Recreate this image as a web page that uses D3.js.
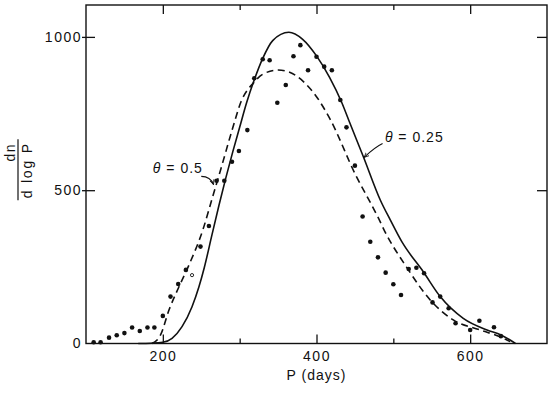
<!DOCTYPE html>
<html>
<head>
<meta charset="utf-8">
<script src="https://cdn.jsdelivr.net/npm/d3@7"></script>
<style>
  body { margin: 0; background: #fff; }
  text { font-family: "Liberation Sans", Arial, sans-serif; fill: #111; }
</style>
</head>
<body>
<div id="chart"></div>
<script>
// observed stars: period (days) and dn / d log P
var dotP = [110, 119, 130, 140, 150, 160, 170, 180, 189, 200, 210, 220, 230, 249, 260, 270, 280, 290, 299, 310,
  319, 330, 339, 349, 360, 370, 379, 389, 400, 410, 420, 431, 439, 450, 460, 470, 480, 490, 500, 510,
  520, 530, 540, 551, 561, 572, 581, 600, 612, 631, 640];
var dotV = [4, 4, 19, 27, 34, 52, 41, 52, 52, 90, 153, 194, 240, 316, 383, 531, 531, 593, 628, 696,
  865, 927, 924, 785, 843, 937, 973, 891, 935, 903, 891, 794, 705, 580, 414, 332, 281, 231, 193, 158,
  243, 247, 229, 134, 153, 115, 66, 44, 74, 53, 24];
// the one open circle
var openP = [238];
var openV = [223];

// theta = 0.25 model (solid)
var solidP = [168, 185, 200, 212, 225, 238, 247, 254, 264, 273, 282, 291, 300, 309, 319, 330, 343, 364, 382, 400,
  417, 433, 442, 461, 483, 496, 511, 539, 561, 591, 622, 640, 659];
var solidV = [0, 1, 4, 17, 55, 120, 185, 248, 355, 450, 540, 625, 705, 785, 860, 930, 988, 1015, 992, 938,
  868, 785, 728, 609, 468, 403, 332, 234, 153, 82, 44, 28, 0];

// theta = 0.5 model (dashed)
var dashP = [186, 197, 208, 221, 234, 252, 265, 277, 290, 302, 318, 330, 350, 365, 383, 400, 417, 452, 470, 480,
  489, 517, 548, 578, 613, 639, 652];
var dashV = [0, 28, 109, 185, 256, 370, 480, 582, 695, 790, 850, 878, 892, 885, 854, 805, 735, 544, 460, 412,
  365, 250, 142, 77, 44, 22, 6];

var xMajor = [200, 400, 600];
var xMinor = [300, 500];
var yTicks = [0, 500, 1000];

var svgWidth = 560;
var svgHeight = 395;

var svg = d3.select('#chart')
  .append('svg')
  .attr('width', svgWidth)
  .attr('height', svgHeight);

var x = d3.scaleLinear().domain([100, 700]).range([86, 547]);
var y = d3.scaleLinear().domain([0, 1104]).range([343.5, 5]);

// frame
svg.append('rect')
  .attr('x', x(100)).attr('y', y(1104))
  .attr('width', x(700) - x(100)).attr('height', y(0) - y(1104))
  .attr('fill', 'none').attr('stroke', '#111').attr('stroke-width', 1.4);

// bottom axis, major ticks with labels
svg.append('g')
  .attr('transform', `translate(0,${y(0)})`)
  .call(d3.axisBottom(x).tickValues(xMajor).tickFormat(d3.format('d')).tickSizeInner(-9).tickSizeOuter(0).tickPadding(8));
// minor ticks
svg.append('g')
  .attr('transform', `translate(0,${y(0)})`)
  .call(d3.axisBottom(x).tickValues(xMinor).tickFormat('').tickSizeInner(-5).tickSizeOuter(0));
// top ticks
svg.append('g')
  .attr('transform', `translate(0,${y(1104)})`)
  .call(d3.axisTop(x).tickValues(xMajor).tickFormat('').tickSizeInner(-9).tickSizeOuter(0));
svg.append('g')
  .attr('transform', `translate(0,${y(1104)})`)
  .call(d3.axisTop(x).tickValues(xMinor).tickFormat('').tickSizeInner(-5).tickSizeOuter(0));

// left axis
var yAxis = svg.append('g')
  .attr('transform', `translate(${x(100)},0)`)
  .call(d3.axisLeft(y).tickValues(yTicks).tickFormat(d3.format('d')).tickSizeInner(-9).tickSizeOuter(0).tickPadding(4));
yAxis.selectAll('.tick line').attr('x1', -4);
yAxis.selectAll('.tick').filter(d => d === 0).select('line').remove();

// right axis
svg.append('g')
  .attr('transform', `translate(${x(700)},0)`)
  .call(d3.axisRight(y).tickValues([500, 1000]).tickFormat('').tickSizeInner(-10).tickSizeOuter(0));

svg.selectAll('.domain').remove();
svg.selectAll('.tick line').attr('stroke', '#111').attr('stroke-width', 1.3);
svg.selectAll('.tick text')
  .attr('font-size', '14px')
  .attr('letter-spacing', '1.5px')
  .attr('font-family', '"Liberation Sans", Arial, sans-serif')
  .attr('fill', '#111');

// axis titles
svg.append('text')
  .attr('x', x(400))
  .attr('y', 380)
  .attr('text-anchor', 'middle')
  .attr('font-size', '14px')
  .attr('letter-spacing', '1px')
  .text('P (days)');

var yTitle = svg.append('g')
  .attr('transform', `translate(18,${y(565)}) rotate(-90)`);
yTitle.append('text')
  .attr('x', 18).attr('y', -3)
  .attr('text-anchor', 'middle')
  .attr('font-size', '14px')
  .attr('letter-spacing', '1.5px')
  .text('dn');
yTitle.append('line')
  .attr('x1', -30).attr('x2', 31)
  .attr('y1', 0).attr('y2', 0)
  .attr('stroke', '#111').attr('stroke-width', 1.2);
yTitle.append('text')
  .attr('x', 0).attr('y', 14)
  .attr('text-anchor', 'middle')
  .attr('font-size', '14px')
  .attr('letter-spacing', '1.8px')
  .text('d log P');

// model curves
var line = d3.line()
  .x(d => x(d[0]))
  .y(d => y(d[1]))
  .curve(d3.curveMonotoneX);

svg.append('path')
  .datum(d3.zip(solidP, solidV))
  .attr('d', line)
  .attr('fill', 'none')
  .attr('stroke', '#111')
  .attr('stroke-width', 1.6);

svg.append('path')
  .datum(d3.zip(dashP, dashV))
  .attr('d', line)
  .attr('fill', 'none')
  .attr('stroke', '#111')
  .attr('stroke-width', 1.6)
  .attr('stroke-dasharray', '7,4.5');

// data points
svg.selectAll('circle.obs')
  .data(d3.zip(dotP, dotV))
  .enter()
  .append('circle')
  .attr('class', 'obs')
  .attr('cx', d => x(d[0]))
  .attr('cy', d => y(d[1]))
  .attr('r', 2.3)
  .attr('fill', '#111');

svg.selectAll('circle.open')
  .data(d3.zip(openP, openV))
  .enter()
  .append('circle')
  .attr('class', 'open')
  .attr('cx', d => x(d[0]))
  .attr('cy', d => y(d[1]))
  .attr('r', 1.6)
  .attr('fill', 'none')
  .attr('stroke', '#111')
  .attr('stroke-width', 0.9);

// labels with leaders
svg.append('defs').append('marker')
  .attr('id', 'tip')
  .attr('viewBox', '0 0 10 10')
  .attr('refX', 9).attr('refY', 5)
  .attr('markerWidth', 5).attr('markerHeight', 5)
  .attr('orient', 'auto')
  .append('path')
  .attr('d', 'M0,1 L9,5 L0,9')
  .attr('fill', 'none')
  .attr('stroke', '#111')
  .attr('stroke-width', 1.5);

function label(p, v, txt) {
  var t = svg.append('text')
    .attr('x', x(p))
    .attr('y', y(v))
    .attr('dy', '0.35em')
    .attr('font-size', '14px')
    .attr('letter-spacing', '1px');
  t.append('tspan').attr('font-style', 'italic').text('\u03b8');
  t.append('tspan').text(' = ' + txt);
}
function leader(p0, v0, pc, vc, p1, v1) {
  var pth = d3.path();
  pth.moveTo(x(p0), y(v0));
  pth.quadraticCurveTo(x(pc), y(vc), x(p1), y(v1));
  svg.append('path')
    .attr('d', pth.toString())
    .attr('fill', 'none')
    .attr('stroke', '#111')
    .attr('stroke-width', 1.1)
    .attr('marker-end', 'url(#tip)');
}

label(187, 573, '0.5');
leader(250, 545, 262, 545, 266, 518);

label(489, 674, '0.25');
leader(486, 652, 476, 640, 462, 607);
</script>
</body>
</html>
